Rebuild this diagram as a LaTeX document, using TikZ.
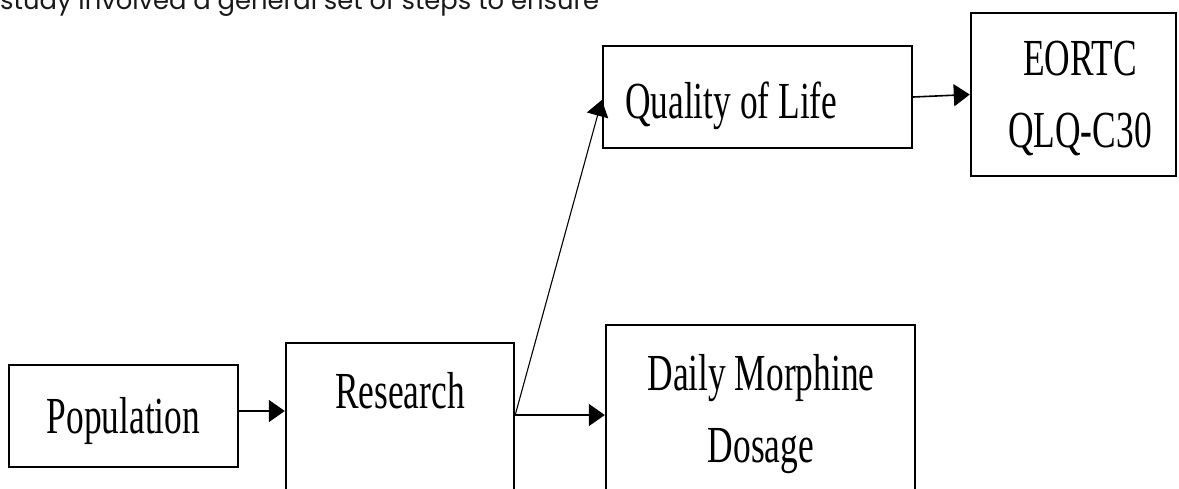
\documentclass[tikz,border=0pt]{standalone}
\usepackage{fontspec}
\setmainfont{Liberation Serif}[FakeStretch=0.68]
\newfontfamily\topfont{Poppins}
\usetikzlibrary{arrows.meta}
\tikzset{
  box/.style={draw=black, line width=2.4pt, inner sep=0pt, fill=white},
  lbl/.style={anchor=base, inner sep=0pt, font=\fontsize{52}{72}\selectfont, align=center},
  arr/.style={line width=1.6pt, -{Triangle[length=16pt,width=22pt]}},
  thin/.style={line width=1.1pt, -{Triangle[length=16pt,width=22pt]}}
}
\begin{document}
\begin{tikzpicture}[x=1pt,y=-1pt]
\useasboundingbox (0,0) rectangle (1179,488);
\clip (0,0) rectangle (1179,488);
\fill[white] (0,0) rectangle (1179,488);
% boxes
\node[box, minimum width=229pt, minimum height=102pt] (pop) at (123.5,416) {};
\node[box, minimum width=228pt, minimum height=157pt] (res) at (400,421.5) {};
\node[box, minimum width=309pt, minimum height=102pt] (qol) at (757.5,97) {};
\node[box, minimum width=205pt, minimum height=163pt] (eortc) at (1073.5,94.5) {};
\node[box, minimum width=309pt, minimum height=175pt] (daily) at (760.5,412.5) {};
% labels
\node[lbl] (tpop) at (123.5,433) {Population};
\node[lbl] (tres) at (400,408) {Research};
\node[lbl, anchor=base west] (tqol) at (625,118) {Quality of Life};
\node[lbl] (teortc) at (1080,147) {EORTC\\QLQ-C30};
\node[lbl] (tdaily) at (761,462) {Daily Morphine\\Dosage};
% top text
\node[anchor=base west, inner sep=0pt, text=black!90, font=\topfont\fontsize{25.8}{30}\selectfont] (top) at (0,9) {study involved a general set of steps to ensure};
% connectors
\draw[arr] (pop.east |- {0,411}) -- (res.west |- {0,411});
\draw[arr] (res.east |- {0,415}) -- (daily.west |- {0,415});
\draw[thin] (res.east |- {0,415}) -- (qol.west |- {0,100});
\draw[arr] (qol.east) -- (eortc.west);
\end{tikzpicture}
\end{document}
